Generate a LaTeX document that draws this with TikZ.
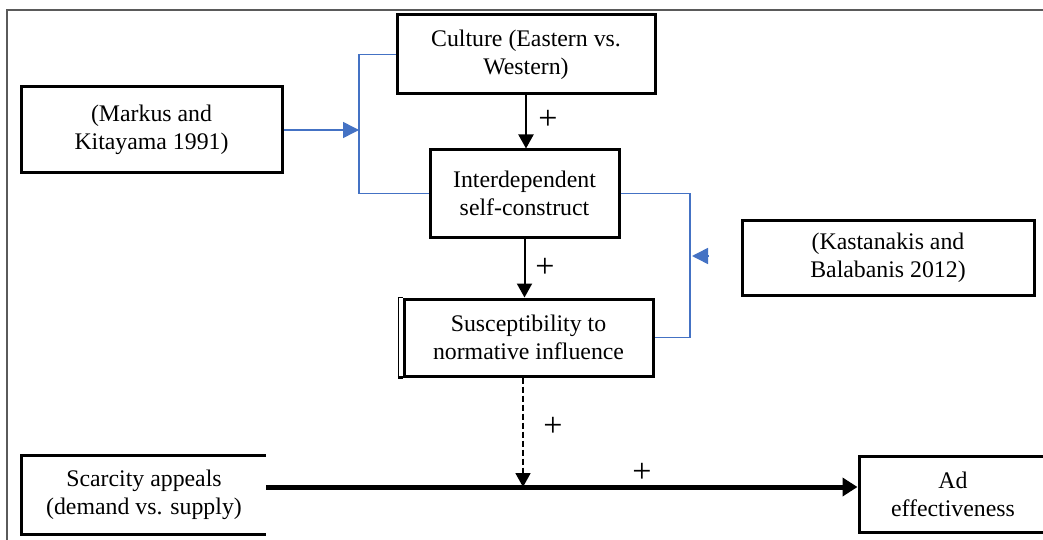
\documentclass[tikz,border=0pt]{standalone}
\usepackage{fontspec}
\setmainfont{Liberation Serif}
\usetikzlibrary{arrows.meta,calc}
\definecolor{linkblue}{RGB}{68,114,196}
\definecolor{framegray}{RGB}{90,90,90}
\begin{document}
\begin{tikzpicture}[x=1pt,y=-1pt,
  box/.style={draw=black,line width=3pt,align=center,inner sep=0pt,font=\fontsize{23.8}{28}\selectfont},
  plainbox/.style={align=center,inner sep=0pt,font=\fontsize{23.8}{28}\selectfont},
  plus/.style={font=\fontsize{34}{36}\selectfont,inner sep=0pt},
  blueline/.style={draw=linkblue,line width=1.5pt},
  bluetip/.style={blueline,-{Triangle[length=16pt,width=16pt]}},
  blackarrow/.style={draw=black,line width=2pt,-{Triangle[length=14pt,width=15pt]}},
  dasharrow/.style={draw=black,line width=1.8pt,dash pattern=on 6pt off 3pt,-{Triangle[length=14pt,width=15pt]}},
  mainarrow/.style={draw=black,line width=5pt,-{Triangle[length=15pt,width=18pt]}}
]
\useasboundingbox (0,0) rectangle (1043,540);
\clip (0,0) rectangle (1043,540);
\fill[white] (0,0) rectangle (1043,540);
% frame
\draw[framegray,line width=1.5pt] (7,560) -- (7,10) -- (1060,10);

% nodes
\node[box,minimum width=258pt,minimum height=79pt] (culture) at (526,54.5) {Culture (Eastern vs.\\Western)};
\node[box,minimum width=261pt,minimum height=86pt] (markus) at (151.5,130) {(Markus and\\Kitayama 1991)};
\node[box,minimum width=189pt,minimum height=87pt] (inter) at (524.5,193.5) {Interdependent\\self-construct};
\node[box,minimum width=292pt,minimum height=75pt] (kast) at (888,257.5) {(Kastanakis and\\Balabanis 2012)};
\node[box,minimum width=249pt,minimum height=77pt] (susc) at (528.5,337.5) {Susceptibility to\\normative influence};
\node[plainbox,minimum width=244pt,minimum height=78pt] (scar) at (144,495) {Scarcity appeals\\(demand vs. supply)};
\node[box,minimum width=188pt,minimum height=76pt] (ad) at (953,494) {Ad\\effectiveness};

% double left edge of susceptibility box
\draw[line width=1.3pt] ([xshift=-4pt]susc.north west) -- ([xshift=-4pt]susc.south west);
\draw[line width=3pt] ([xshift=-4.6pt]susc.south west) -- (susc.south west);
\draw[line width=1.3pt] ([xshift=-4.6pt]susc.north west) -- (susc.north west);

% open-sided scarcity box
\draw[line width=3pt] (scar.north east) -- (scar.north west) -- (scar.south west) -- (scar.south east);

% coordinates
\coordinate (lb) at (359,130);
\coordinate (rb) at (690,256);
\coordinate (rt) at (692,256);
\coordinate (kt) at (709,256);
\coordinate (dj) at (523,487);

% blue moderation brackets
\draw[blueline] (culture.west) -| (lb) |- (inter.west);
\draw[bluetip] (markus.east) -- (lb);
\draw[blueline] (inter.east) -| (rb) |- (susc.east);
\draw[bluetip] (kt) -- (rt);

% black arrows
\draw[blackarrow] (culture.south) -- (culture.south |- inter.north);
\draw[blackarrow] (inter.south) -- (inter.south |- susc.north);
\draw[dasharrow] (susc.south -| dj) -- (dj);
\draw[mainarrow] (scar.east |- dj) -- (ad.west |- dj);

% plus labels
\node[plus] (p1) at (548,120) {+};
\node[plus] (p2) at (545,268) {+};
\node[plus] (p3) at (553,427) {+};
\node[plus] (p4) at (642,473) {+};
\end{tikzpicture}
\end{document}
